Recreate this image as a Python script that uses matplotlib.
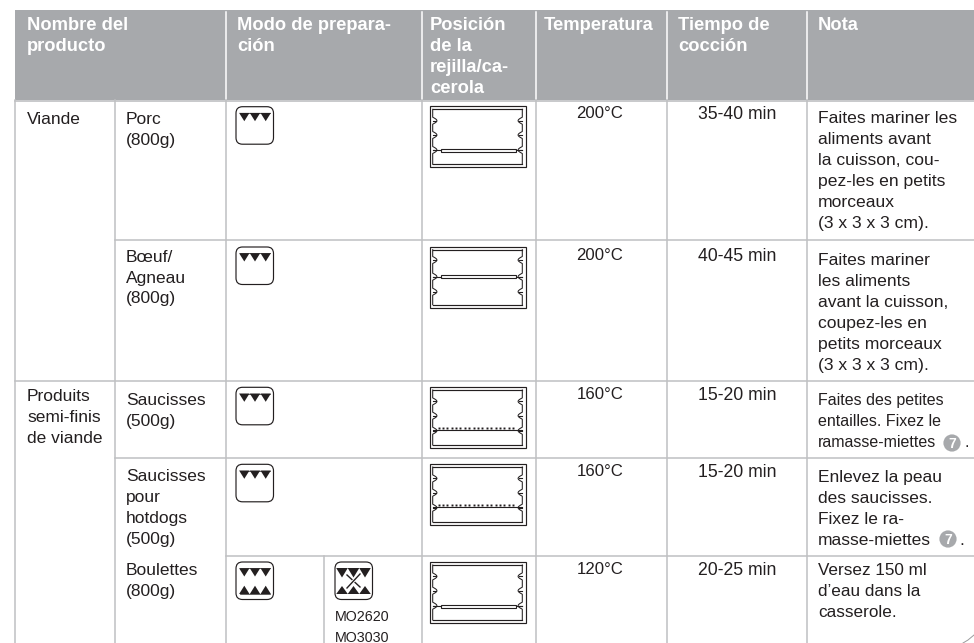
import matplotlib
matplotlib.use('Agg')
import numpy as np
import matplotlib.pyplot as plt
from matplotlib.patches import Rectangle, FancyBboxPatch, Polygon, Circle

plt.rcParams['font.family'] = ['Liberation Sans', 'DejaVu Sans']

# table content
headers = [['Nombre del', 'producto'], ['Modo de prepara-', 'ción'],
           ['Posición', 'de la', 'rejilla/ca-', 'cerola'], ['Temperatura'],
           ['Tiempo de', 'cocción'], ['Nota']]
groups = ['Viande', ['Produits', 'semi-finis', 'de viande']]
products = [['Porc', '(800g)'], ['Bœuf/', 'Agneau', '(800g)'], ['Saucisses', '(500g)'],
            ['Saucisses', 'pour', 'hotdogs', '(500g)'], ['Boulettes', '(800g)']]
temps = ['200°C', '200°C', '160°C', '160°C', '120°C']
times = ['35-40 min', '40-45 min', '15-20 min', '15-20 min', '20-25 min']
notes = [['Faites mariner les', 'aliments avant', 'la cuisson, cou-', 'pez-les en petits', 'morceaux', '(3 x 3 x 3 cm).'],
         ['Faites mariner', 'les aliments', 'avant la cuisson,', 'coupez-les en', 'petits morceaux', '(3 x 3 x 3 cm).'],
         ['Faites des petites', 'entailles. Fixez le', 'ramasse-miettes'],
         ['Enlevez la peau', 'des saucisses.', 'Fixez le ra-', 'masse-miettes'],
         ['Versez 150 ml', 'd’eau dans la', 'casserole.']]
models = ['MO2620', 'MO3030']

# layout, in pixels of the page
col_x = [15, 115, 225.5, 422, 535.5, 666.5, 807]
head_x = [27, 237, 430, 544, 678, 818]
ink = '#231f20'
grid = '#bfc0c2'
band = '#a7a9ac'

fig = plt.figure(figsize=(9.74, 6.43), dpi=100)
ax = fig.add_axes([0, 0, 1, 1])
ax.set_xlim(0, 974)
ax.set_ylim(643, 0)
ax.axis('off')


def block(x, y, lines, size=17.4, step=21, color=ink, ha='left', weight='normal'):
    for i, s in enumerate(lines):
        ax.text(x, y + i * step, s, fontsize=size * 0.72, color=color, ha=ha, va='baseline', fontweight=weight)


def triangles(centers, y0, y1, half):
    for c in centers:
        ax.add_patch(Polygon([(c - half, y0), (c + half, y0), (c, y1)], fc=ink, ec='none'))


def heat_box(x, y, lower=False, fan=False):
    ax.add_patch(FancyBboxPatch((x + 6, y + 6), 25.5, 25.5, boxstyle='round,pad=6,rounding_size=6.5',
                                fc='white', ec=ink, lw=0.85))
    if fan:
        cs = [x + 7, x + 18.5, x + 30]
        triangles(cs, y + 6, y + 15.5, 5.8)
        triangles(cs, y + 32, y + 24, 5.8)
        for a, b in [((x + 12, y + 13), (x + 25, y + 25)), ((x + 25, y + 12), (x + 12, y + 26))]:
            ax.plot([a[0], b[0]], [a[1], b[1]], color='white', lw=2.2)
            ax.plot([a[0], b[0]], [a[1], b[1]], color=ink, lw=1.0)
    else:
        cs = [x + 8.3, x + 19, x + 29.7]
        triangles(cs, y + 6.2, y + 14.5, 5.2)
        ax.plot([x + 4, x + 33.5], [y + 6.2, y + 6.2], color=ink, lw=0.5)
        if lower:
            triangles(cs, y + 32, y + 23.7, 5.2)
            ax.plot([x + 4, x + 33.5], [y + 32, y + 32], color=ink, lw=0.5)


def oven(y, shelf, kind, bumps):
    x0, x1 = 429.5, 525.5
    h = 61
    ax.add_patch(Rectangle((x0, y), x1 - x0, h, fc='white', ec=ink, lw=0.85))
    ax.plot([x0 + 3.2, x1 - 3.2], [y + 3, y + 3], color=ink, lw=0.85)
    ax.plot([x0 + 3.2, x1 - 3.2], [y + h - 3, y + h - 3], color=ink, lw=0.85)
    t = np.linspace(0, 1, 24)
    for sx, edge in [(1, x0 + 3.2), (-1, x1 - 3.2)]:
        ys, xs = [y + 3], [edge]
        for b in bumps:
            ys += list(y + b - 3.5 + 7 * t)
            xs += list(edge + sx * 4.2 * np.sin(np.pi * t))
            ax.plot([edge, edge + sx * 3], [y + b, y + b], color=ink, lw=0.8)
        ys.append(y + h - 3)
        xs.append(edge)
        ax.plot(xs, ys, color=ink, lw=0.75)
    sy = y + shelf
    if kind == 'pan':
        ax.add_patch(Rectangle((441, sy - 1.4), 74.7, 3, fc='white', ec=ink, lw=0.8))
        ax.plot([x0 + 3.2, 441], [sy, sy], color=ink, lw=0.8)
        ax.plot([515.7, x1 - 3.2], [sy, sy], color=ink, lw=0.8)
    else:
        ax.plot([x0 + 3.2, x1 - 3.2], [sy, sy], color=ink, lw=0.8)
        dots = np.arange(x0 + 9, x1 - 9, 4.4)
        ax.plot(dots, np.full(len(dots), sy - 1.6), ls='none', marker='s', ms=1.4, color=ink, mew=0)


# header band with its white dividers
ax.add_patch(Rectangle((15, 10), 959, 90, fc=band, ec='none'))
for x in col_x[2:]:
    ax.plot([x, x], [12, 99], color='white', lw=1.1)
for x, h in zip(head_x, headers):
    block(x, 30, h, size=18.4, color='white', weight='bold')

# grid, the two lower product rows share their left column
ax.plot([15, 974], [101, 101], color=grid, lw=1.2)
for x in col_x:
    ax.plot([x, x], [100, 643], color=grid, lw=1.1)
ax.plot([323.5, 323.5], [556, 643], color=grid, lw=1.1)
ax.plot([115, 974], [240, 240], color=grid, lw=1.1)
ax.plot([15, 974], [381.3, 381.3], color=grid, lw=1.1)
ax.plot([115, 974], [458, 458], color=grid, lw=1.1)
ax.plot([225.5, 974], [556, 556], color=grid, lw=1.1)

# left columns
block(27, 124, [groups[0]])
block(27, 400.7, groups[1])
prod_y = [124, 261.5, 405, 481, 575]
for y, p in zip(prod_y, products):
    block(126, y, p)

# cooking mode icons
for y in [106.7, 247, 387.3, 464.3, 562]:
    heat_box(236, y, lower=(y == 562))
heat_box(335, 562, lower=True, fan=True)
block(334.5, 621, models, size=14.2, step=20.5)

# shelf position icons
oven_y = [106.3, 246.7, 387, 464, 562]
shelves = [44, 30, 43, 43, 44]
kinds = ['pan', 'pan', 'wire', 'wire', 'pan']
bump_sets = [[14.4, 28.7, 43.7], [13.3, 30, 45], [14.4, 28.7, 43.7], [14.4, 28.7, 43.7], [14.4, 28.7, 43.7]]
for y, s, k, b in zip(oven_y, shelves, kinds, bump_sets):
    oven(y, s, k, b)

# temperature, time
temp_y = [118, 260, 399, 476, 574]
for y, a, b in zip(temp_y, temps, times):
    block(600, y, [a], ha='center', size=16.7)
    block(737, y + 1, [b], ha='center', size=17.6)

# notes
note_y = [123, 265, 405, 482, 575]
note_size = [17.5, 17.5, 16, 17.4, 17.1]
for y, n, s in zip(note_y, notes, note_size):
    block(818, y, n, size=s)

for cx, cy in [(952, 443), (948, 539)]:
    ax.add_patch(Circle((cx, cy), 8.6, fc=band, ec='none'))
    ax.text(cx, cy + 5, '7', color='white', fontsize=10, ha='center', va='baseline', fontweight='bold')
block(965, 447, ['.'], size=16)
block(959, 545, ['.'], size=17.4)

# page curl in the corner
ax.plot([963, 968, 974], [643, 640, 635], color='#9a9b9d', lw=0.7)

fig.savefig('out.png', dpi=100)
